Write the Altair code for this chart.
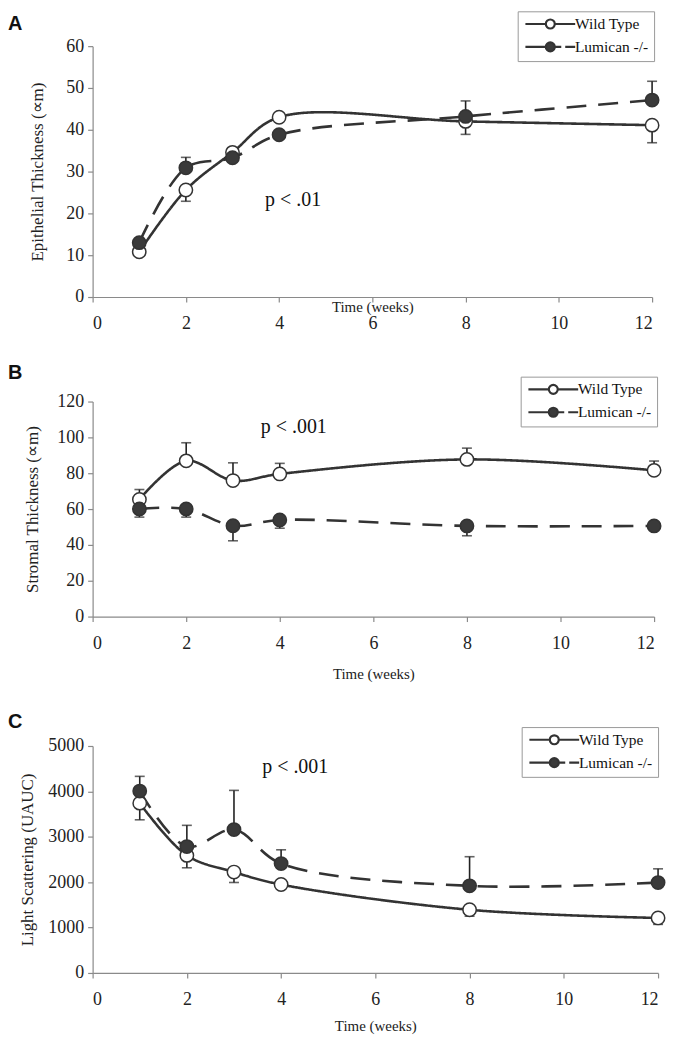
import altair as alt
import pandas as pd

weeks = [1, 2, 3, 4, 8, 12]
series_names = ["Wild Type", "Lumican -/-"]

# Panel A - epithelial thickness
epi_wt = [10.8, 25.6, 34.6, 43.0, 42.0, 41.1]
epi_wt_err = [None, 22.9, None, None, 38.9, 36.9]
epi_ko = [13.0, 30.9, 33.3, 38.8, 43.2, 47.1]
epi_ko_err = [None, 33.4, None, None, 46.9, 51.6]

# Panel B - stromal thickness
str_wt = [65.4, 86.9, 75.9, 79.6, 87.7, 81.6]
str_wt_err = [70.9, 97.0, 85.8, 85.5, 94.0, 86.8]
str_ko = [60.1, 60.1, 50.7, 53.9, 50.6, 50.6]
str_ko_err = [55.5, 55.5, 42.3, 49.3, 45.1, None]

# Panel C - light scattering
ls_wt = [3741, 2590, 2223, 1948, 1392, 1212]
ls_wt_err = [3374, 2317, 1993, None, 1250, 1070]
ls_ko = [4007, 2784, 3158, 2410, 1919, 1991]
ls_ko_err = [4331, 3252, 4022, 2713, 2561, 2294]

# annotations (data coordinates)
p_texts = ["p < .01", "p < .001", "p < .001"]
p_xs = [4.3, 4.3, 4.3]
p_ys = [23.2, 105.5, 4545]

DARK = "#333333"
FILL_KO = "#3a3a3a"
SERIF = "Liberation Serif"

WT_PATH = "M-5,0H-0.9M0.9,0H5M-0.9,0A0.9,0.9,0,1,0,0.9,0A0.9,0.9,0,1,0,-0.9,0Z"
KO_PATH = "M-5,0H-0.9M0.9,0H2.2M3.0,0H5M-0.9,0A0.9,0.9,0,1,0,0.9,0A0.9,0.9,0,1,0,-0.9,0Z"
rev_names = series_names[::-1]


def build_panel(letter, wt, wt_err, ko, ko_err, y_title, y_max, y_step, w, h,
                y_title_x, x_title_y, p_text, p_x, p_y, leg_x, leg_y,
                letter_dx, letter_dy, y_fmt="d"):
    rows = []
    for s, vals, errs in [(series_names[0], wt, wt_err), (series_names[1], ko, ko_err)]:
        for wk, v, e in zip(weeks, vals, errs):
            rows.append({"week": wk, "series": s, "value": v, "err": e})
    df = pd.DataFrame(rows)
    base = alt.Chart(df)

    xscale = alt.Scale(domain=[0, 12], nice=False)
    yscale = alt.Scale(domain=[0, y_max], nice=False)
    x_axis = alt.Axis(values=list(range(0, 13, 2)), title="Time (weeks)",
                      titleY=x_title_y, titleBaseline="middle", labelPadding=13,
                      titleFontSize=15)
    y_axis = alt.Axis(values=list(range(0, y_max + 1, y_step)), title=y_title,
                      titleX=y_title_x, titleBaseline="middle", labelPadding=4,
                      titleFontSize=17, format=y_fmt)

    def X(field):
        return alt.X(field, scale=xscale, axis=x_axis)

    def Y(field):
        return alt.Y(field, scale=yscale, axis=y_axis)

    err_base = base.transform_filter("isValid(datum.err) && isFinite(datum.err)")
    rules = err_base.mark_rule(color="#222222", strokeWidth=1.6).encode(
        x=X("week:Q"), y=Y("value:Q"), y2="err:Q")
    caps = err_base.mark_tick(orient="horizontal", size=10, thickness=1.6,
                              color="#222222").encode(
        x=X("week:Q"), y=Y("err:Q"))

    lines = base.mark_line(interpolate="catmull-rom", strokeWidth=2.6, color=DARK).encode(
        x=X("week:Q"), y=Y("value:Q"),
        strokeDash=alt.StrokeDash("series:N",
                                  scale=alt.Scale(domain=rev_names, range=[[20, 12], [1, 0]]),
                                  legend=None),
        detail="series:N",
    )
    points = base.mark_point(filled=True, size=180, opacity=1, stroke=DARK,
                             strokeWidth=1.5).encode(
        x=X("week:Q"), y=Y("value:Q"),
        color=alt.Color("series:N",
                        scale=alt.Scale(domain=rev_names, range=[FILL_KO, "white"]),
                        legend=None),
    )
    leg = alt.Legend(title=None, orient="none", legendX=leg_x, legendY=leg_y,
                     padding=5, strokeColor="#999999", fillColor="white",
                     labelFont=SERIF, labelFontSize=15.5, labelFontWeight="normal",
                     labelColor="#111111",
                     symbolSize=100, symbolOffset=20, labelOffset=17,
                     symbolStrokeColor=DARK, symbolStrokeWidth=2.2,
                     symbolFillColor="white", symbolOpacity=1, rowPadding=4)
    legend_layer = base.mark_point(opacity=0, stroke=DARK, strokeWidth=2.2).encode(
        x=X("week:Q"), y=Y("value:Q"),
        fill=alt.Fill("series:N",
                      scale=alt.Scale(domain=series_names, range=["white", FILL_KO]),
                      legend=leg),
        shape=alt.Shape("series:N",
                        scale=alt.Scale(domain=series_names, range=[WT_PATH, KO_PATH]),
                        legend=leg),
    )
    ann_df = pd.DataFrame({"x": [p_x], "y": [p_y], "t": [p_text]})
    ann = alt.Chart(ann_df).mark_text(font=SERIF, fontSize=20, color="#111111",
                                      align="center", baseline="middle").encode(
        x=X("x:Q"), y=Y("y:Q"), text="t:N",
    )
    return alt.layer(lines, rules, caps, points, legend_layer, ann).properties(
        width=w, height=h,
        title=alt.TitleParams(text=letter, anchor="start", frame="group",
                              dx=letter_dx, dy=letter_dy, font="Liberation Sans",
                              fontSize=20, fontWeight="bold", color="#111111"),
    )


pa = build_panel("A", epi_wt, epi_wt_err, epi_ko, epi_ko_err,
                 "Epithelial Thickness (\u221dm)", 60, 10, 562, 252,
                 -55, 10, p_texts[0], p_xs[0], p_ys[0], 427, -35, -85, 27)
pb = build_panel("B", str_wt, str_wt_err, str_ko, str_ko_err,
                 "Stromal Thickness (\u221dm)", 120, 20, 564, 216,
                 -60, 57, p_texts[1], p_xs[1], p_ys[1], 430, -25, -85, 11)
pc = build_panel("C", ls_wt, ls_wt_err, ls_ko, ls_ko_err,
                 "Light Scattering (UAUC)", 5000, 1000, 568, 228,
                 -65, 53, p_texts[2], p_xs[2], p_ys[2], 431, -19, -85, 9)

chart = alt.vconcat(pa, pb, pc, spacing=30).resolve_scale(
    x="independent", y="independent", color="independent", fill="independent",
    shape="independent", strokeDash="independent"
).resolve_legend(fill="independent", shape="independent").properties(
    padding=0
).configure(font=SERIF).configure_view(stroke=None).configure_axis(
    grid=False, domainColor="#8a8a8a", tickColor="#8a8a8a", domainWidth=1.2,
    tickWidth=1.2, tickSize=5, labelFont=SERIF, labelFontSize=18,
    labelColor="#222222", titleFont=SERIF, titleFontWeight="normal",
    titleColor="#222222"
).configure_legend(labelFont=SERIF, labelFontSize=15.5)

chart.save("out.html", embed_options={"renderer": "svg", "actions": False})
